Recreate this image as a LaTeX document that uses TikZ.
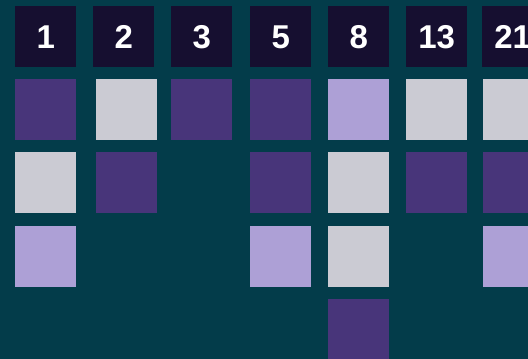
\documentclass[tikz,border=0pt]{standalone}
\usepackage{fontspec}
\setmainfont{Liberation Sans}
\usepackage{xcolor}
\usetikzlibrary{positioning}

\definecolor{bgteal}{HTML}{033C4A}
\definecolor{headnavy}{HTML}{160F30}
\definecolor{tilepurple}{HTML}{48357A}
\definecolor{tilegray}{HTML}{CBCBD3}
\definecolor{tilelav}{HTML}{ADA0D6}

\begin{document}
\begin{tikzpicture}[
    x=1pt, y=-1pt,
    header/.style={rectangle, fill=headnavy, minimum width=61pt, minimum height=61pt, inner sep=0pt, anchor=north west, text=white, text depth=-1.5pt, font=\fontsize{33}{33}\selectfont\bfseries},
    tile/.style={rectangle, minimum width=61pt, minimum height=61pt, inner sep=0pt, anchor=north west},
    P/.style={tile, fill=tilepurple},
    G/.style={tile, fill=tilegray},
    L/.style={tile, fill=tilelav}
]
% Background and frame
\clip (0,0) rectangle (528,359);
\fill[bgteal] (0,0) rectangle (528,359);

% Headers
\node[header] (h1) at (15,6) {1};
\node[header] (h2) at (93,6) {2};
\node[header] (h3) at (171,6) {3};
\node[header] (h5) at (250,6) {5};
\node[header] (h8) at (328,6) {8};
\node[header] (h13) at (406,6) {13};
\node[header] (h21) at (482,6) {21};

% Tiles, column by column
\foreach \s/\r [count=\i] in {P/79, G/152, L/226}
  \node[\s] (a\i) at (15,\r) {};
\foreach \s/\r [count=\i] in {G/79, P/152}
  \node[\s] (b\i) at (96,\r) {};
\foreach \s/\r [count=\i] in {P/79}
  \node[\s] (c\i) at (171,\r) {};
\foreach \s/\r [count=\i] in {P/79, P/152, L/226}
  \node[\s] (d\i) at (250,\r) {};
\foreach \s/\r [count=\i] in {L/79, G/152, G/226, P/299}
  \node[\s] (e\i) at (328,\r) {};
\foreach \s/\r [count=\i] in {G/79, P/152}
  \node[\s] (f\i) at (406,\r) {};
\foreach \s/\r [count=\i] in {G/79, P/152, L/226}
  \node[\s] (g\i) at (483,\r) {};
\end{tikzpicture}
\end{document}
